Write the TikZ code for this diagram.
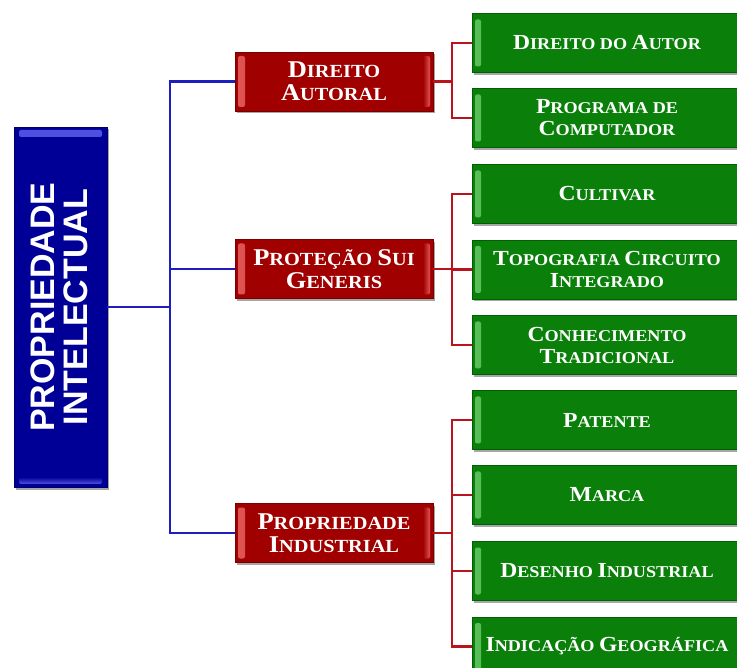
\documentclass[tikz,border=0pt]{standalone}
\usepackage{fontspec}
\setmainfont{Liberation Serif}
\newfontfamily\boxfont[FakeStretch=1.1]{Liberation Serif Bold}
\newfontfamily\titlefont{Liberation Sans Bold}
\usetikzlibrary{shadows}
\makeatletter
% larger initial capital for the small-caps look
\newcommand\C[1]{{\fontsize{\dimexpr\f@size pt*13/10\relax}{\f@baselineskip}\selectfont #1}}
\makeatother
\definecolor{boxred}{RGB}{160,0,0}
\definecolor{boxredd}{RGB}{120,0,0}
\definecolor{redhi}{RGB}{225,85,85}
\definecolor{boxgreen}{RGB}{10,128,10}
\definecolor{boxgreend}{RGB}{0,95,0}
\definecolor{greenhi}{RGB}{90,190,90}
\definecolor{boxblue}{RGB}{0,0,150}
\definecolor{boxblued}{RGB}{0,0,105}
\definecolor{bluehi}{RGB}{80,80,225}
\definecolor{linkblue}{RGB}{30,30,190}
\definecolor{linkred}{RGB}{185,20,30}
\tikzset{
  card/.style={inner sep=0pt, text=white, align=center, line width=0.6pt,
    drop shadow={shadow xshift=1.5pt, shadow yshift=-2.5pt, opacity=0.35, fill=black}},
  redbox/.style={card, fill=boxred, draw=boxredd,
    minimum width=198pt, minimum height=59pt,
    font=\boxfont\fontsize{18.5}{23}\selectfont,
    path picture={
      \shade[left color=redhi, right color=boxred, rounded corners=2pt]
        ([xshift=3pt,yshift=-4pt]path picture bounding box.north west) rectangle
        ([xshift=10pt,yshift=4pt]path picture bounding box.south west);
      \shade[right color=redhi, left color=boxred, rounded corners=2pt]
        ([xshift=-3pt,yshift=-4pt]path picture bounding box.north east) rectangle
        ([xshift=-10pt,yshift=4pt]path picture bounding box.south east);
    }},
  greenbox/.style={card, fill=boxgreen, draw=boxgreend,
    minimum width=270pt, minimum height=59pt,
    font=\boxfont\fontsize{16.5}{22}\selectfont,
    path picture={
      \shade[left color=greenhi, right color=boxgreen, rounded corners=2pt]
        ([xshift=3pt,yshift=-6pt]path picture bounding box.north west) rectangle
        ([xshift=9pt,yshift=6pt]path picture bounding box.south west);
    }},
  bluebox/.style={card, fill=boxblue, draw=boxblued,
    minimum width=93pt, minimum height=360pt,
    path picture={
      \shade[top color=bluehi, bottom color=boxblue, rounded corners=2pt]
        ([xshift=5pt,yshift=-3pt]path picture bounding box.north west) rectangle
        ([xshift=-5pt,yshift=-10pt]path picture bounding box.north east);
      \shade[bottom color=bluehi, top color=boxblue, rounded corners=2pt]
        ([xshift=5pt,yshift=3pt]path picture bounding box.south west) rectangle
        ([xshift=-5pt,yshift=10pt]path picture bounding box.south east);
    }},
  bluelink/.style={draw=linkblue, line width=2.2pt},
  redlink/.style={draw=linkred, line width=2.2pt},
}
\begin{document}
\begin{tikzpicture}[x=1pt, y=-1pt]
\useasboundingbox (0,0) rectangle (737,668);

% root
\node[bluebox] (root) at (60.5,307) {};
\node[rotate=90, text=white, align=center, font=\titlefont\fontsize{34}{33}\selectfont]
  (roottext) at ([xshift=-1.5pt]root.center) {PROPRIEDADE\\INTELECTUAL};

% categories
\node[redbox] (autoral) at (334,81.5) {\C{D}IREITO\\\C{A}UTORAL};
\node[redbox] (sui) at (334,269) {\C{P}ROTEÇÃO \C{S}UI\\\C{G}ENERIS};
\node[redbox] (ind) at (334,533) {\C{P}ROPRIEDADE\\\C{I}NDUSTRIAL};

% leaves
\node[greenbox] (autor) at (607,43) {\C{D}IREITO DO \C{A}UTOR};
\node[greenbox] (prog) at (607,118) {\C{P}ROGRAMA DE\\\C{C}OMPUTADOR};
\node[greenbox] (cult) at (607,194) {\C{C}ULTIVAR};
\node[greenbox] (topo) at (607,269.5) {\C{T}OPOGRAFIA \C{C}IRCUITO\\\C{I}NTEGRADO};
\node[greenbox] (conh) at (607,345) {\C{C}ONHECIMENTO\\\C{T}RADICIONAL};
\node[greenbox] (pat) at (607,420) {\C{P}ATENTE};
\node[greenbox] (marca) at (607,495) {\C{M}ARCA};
\node[greenbox] (des) at (607,571) {\C{D}ESENHO \C{I}NDUSTRIAL};
\node[greenbox] (geo) at (607,646.5) {\C{I}NDICAÇÃO \C{G}EOGRÁFICA};

% junction points
\coordinate (bj) at (170,307);
\coordinate (j1) at (452,81.5);
\coordinate (j2) at (452,269);
\coordinate (j3) at (452,533);

% root to categories
\draw[bluelink] (root.east) -- (bj);
\draw[bluelink] (bj) |- (autoral.west);
\draw[bluelink] (bj) |- (sui.west);
\draw[bluelink] (bj) |- (ind.west);

% categories to leaves
\draw[redlink] (autoral.east) -- (j1);
\draw[redlink] (j1) |- (autor.west);
\draw[redlink] (j1) |- (prog.west);
\draw[redlink] (sui.east) -- (j2);
\draw[redlink] (j2) |- (cult.west);
\draw[redlink] (j2) |- (topo.west);
\draw[redlink] (j2) |- (conh.west);
\draw[redlink] (ind.east) -- (j3);
\draw[redlink] (j3) |- (pat.west);
\draw[redlink] (j3) |- (marca.west);
\draw[redlink] (j3) |- (des.west);
\draw[redlink] (j3) |- (geo.west);
\end{tikzpicture}
\end{document}
